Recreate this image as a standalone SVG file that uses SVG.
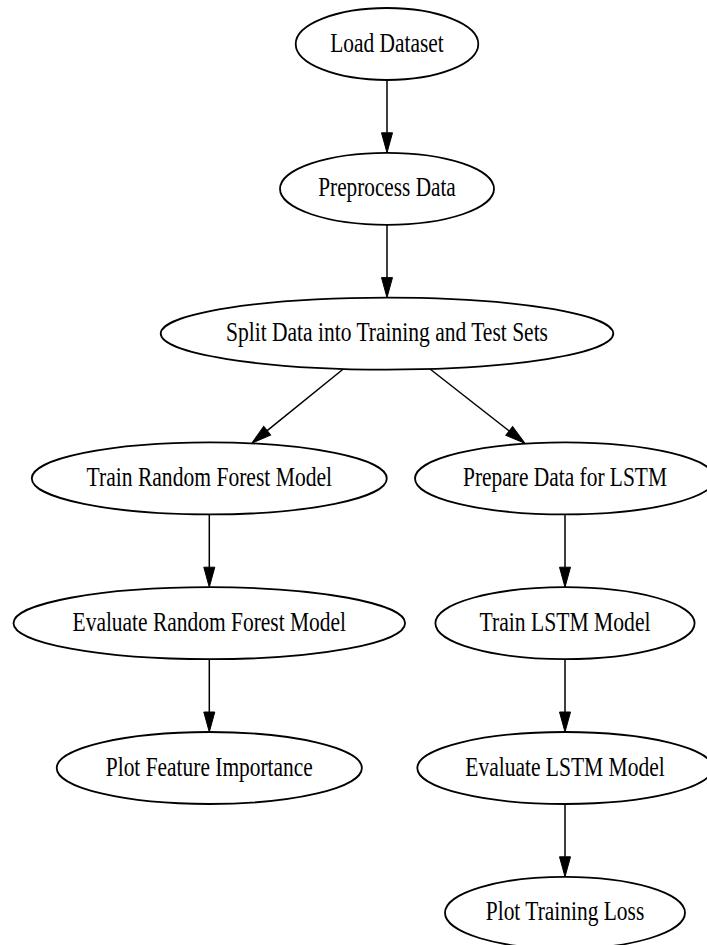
<svg xmlns="http://www.w3.org/2000/svg" width="707" height="945" viewBox="0 0 707 945">
<style>
.node ellipse{fill:#fff;stroke:#000;stroke-width:1.8}
.node text{font-family:"Liberation Serif","Times New Roman",serif;font-size:28px;fill:#000;text-anchor:middle}
.edge{stroke:#000;stroke-width:1.5;fill:none;marker-end:url(#arrow)}
</style>
<defs>
<marker id="arrow" markerUnits="userSpaceOnUse" viewBox="0 0 20 11" markerWidth="20" markerHeight="11" refX="0" refY="5.5" orient="auto" overflow="visible">
<path d="M0,0 L20,5.5 L0,11 Z" fill="#000" stroke="#000" stroke-width="1"/>
</marker>
</defs>
<rect width="707" height="945" fill="#fff"/>
<g id="edges">
<line class="edge" x1="387" y1="80" x2="387" y2="132.8"/>
<line class="edge" x1="387" y1="224.8" x2="387" y2="277.6"/>
<line class="edge" x1="343.3" y1="369" x2="267.2" y2="430.7"/>
<line class="edge" x1="430" y1="369" x2="509.2" y2="431"/>
<line class="edge" x1="209.3" y1="514.4" x2="209.3" y2="567.2"/>
<line class="edge" x1="209.3" y1="659.2" x2="209.3" y2="712"/>
<line class="edge" x1="565" y1="514.4" x2="565" y2="567.2"/>
<line class="edge" x1="565" y1="659.2" x2="565" y2="712"/>
<line class="edge" x1="565" y1="804" x2="565" y2="856.8"/>
</g>
<g id="load" class="node"><ellipse cx="387" cy="44" rx="91.3" ry="36"/><text x="387" y="51.5" textLength="113.5" lengthAdjust="spacingAndGlyphs">Load Dataset</text></g>
<g id="preprocess" class="node"><ellipse cx="387" cy="188.8" rx="107" ry="36"/><text x="387" y="196.3" textLength="137.5" lengthAdjust="spacingAndGlyphs">Preprocess Data</text></g>
<g id="split" class="node"><ellipse cx="387" cy="333.6" rx="226.3" ry="36"/><text x="387" y="341.1" textLength="322" lengthAdjust="spacingAndGlyphs">Split Data into Training and Test Sets</text></g>
<g id="train_rf" class="node"><ellipse cx="209.3" cy="478.4" rx="177.5" ry="36"/><text x="209.3" y="485.9" textLength="245.5" lengthAdjust="spacingAndGlyphs">Train Random Forest Model</text></g>
<g id="prepare_lstm" class="node"><ellipse cx="565" cy="478.4" rx="150" ry="36"/><text x="565" y="485.9" textLength="204" lengthAdjust="spacingAndGlyphs">Prepare Data for LSTM</text></g>
<g id="eval_rf" class="node"><ellipse cx="209.3" cy="623.2" rx="195.8" ry="36"/><text x="209.3" y="630.7" textLength="273.5" lengthAdjust="spacingAndGlyphs">Evaluate Random Forest Model</text></g>
<g id="train_lstm" class="node"><ellipse cx="565" cy="623.2" rx="129.6" ry="36"/><text x="565" y="630.7" textLength="171" lengthAdjust="spacingAndGlyphs">Train LSTM Model</text></g>
<g id="plot_fi" class="node"><ellipse cx="209.3" cy="768" rx="152.6" ry="36"/><text x="209.3" y="775.5" textLength="207" lengthAdjust="spacingAndGlyphs">Plot Feature Importance</text></g>
<g id="eval_lstm" class="node"><ellipse cx="565" cy="768" rx="147.7" ry="36"/><text x="565" y="775.5" textLength="199.5" lengthAdjust="spacingAndGlyphs">Evaluate LSTM Model</text></g>
<g id="plot_loss" class="node"><ellipse cx="565" cy="912.8" rx="120" ry="36"/><text x="565" y="920.3" textLength="158.5" lengthAdjust="spacingAndGlyphs">Plot Training Loss</text></g>
</svg>
